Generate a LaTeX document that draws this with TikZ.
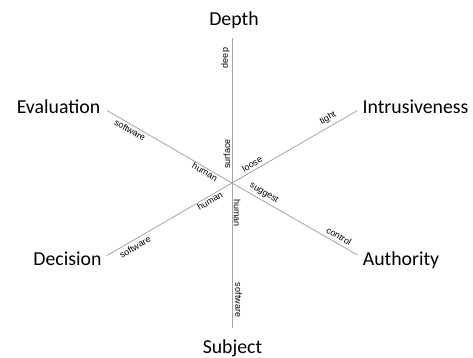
\documentclass[tikz,border=0pt]{standalone}
\usepackage{fontspec}
\setmainfont{Carlito}
\newfontfamily\lblfont{Liberation Sans}
\definecolor{axisgray}{RGB}{165,165,165}
\begin{document}
\begin{tikzpicture}[x=1pt,y=-1pt,
  axis/.style={draw=axisgray,line width=0.8pt},
  dimname/.style={font=\fontsize{19.8}{22}\selectfont,anchor=base,inner sep=0pt},
  lbl/.style={font=\lblfont\fontsize{9}{10}\selectfont,inner sep=0pt}]
\useasboundingbox (0,0) rectangle (473,358);
\coordinate (C) at (232,183);
\coordinate (T) at (232,38);
\coordinate (B) at (232,328);
\coordinate (UL) at (107,110.5);
\coordinate (UR) at (357.5,110.5);
\coordinate (LR) at (357.5,255);
\coordinate (LL) at (107,255.5);
\draw[axis] (C) -- (T);
\draw[axis] (C) -- (B);
\draw[axis] (C) -- (UL);
\draw[axis] (C) -- (UR);
\draw[axis] (C) -- (LR);
\draw[axis] (C) -- (LL);
% dimension names
\node[dimname] (depth) at (234,26) {Depth};
\node[dimname] (eval) at (58.5,114) {Evaluation};
\node[dimname] (intr) at (415.5,114) {Intrusiveness};
\node[dimname] (deci) at (67.5,265) {Decision};
\node[dimname] (auth) at (401,265.5) {Authority};
\node[dimname] (subj) at (232.5,353) {Subject};
% axis labels
\node[lbl,rotate=90] (deep) at (225.5,58) {deep};
\node[lbl,rotate=90] (surf) at (227,154) {surface};
\node[lbl,rotate=-90] (shum) at (237,213) {human};
\node[lbl,rotate=-90] (ssoft) at (238.5,300) {software};
\node[lbl,rotate=-30] (esoft) at (130,130) {software};
\node[lbl,rotate=-30] (ehum) at (205,172) {human};
\node[lbl,rotate=30] (iloose) at (252,164) {loose};
\node[lbl,rotate=30] (itight) at (328,118) {tight};
\node[lbl,rotate=-30] (asug) at (264,193) {suggest};
\node[lbl,rotate=-30] (actl) at (339,236) {control};
\node[lbl,rotate=30] (dhum) at (210,201) {human};
\node[lbl,rotate=30] (dsoft) at (135,247) {software};
\end{tikzpicture}
\end{document}
